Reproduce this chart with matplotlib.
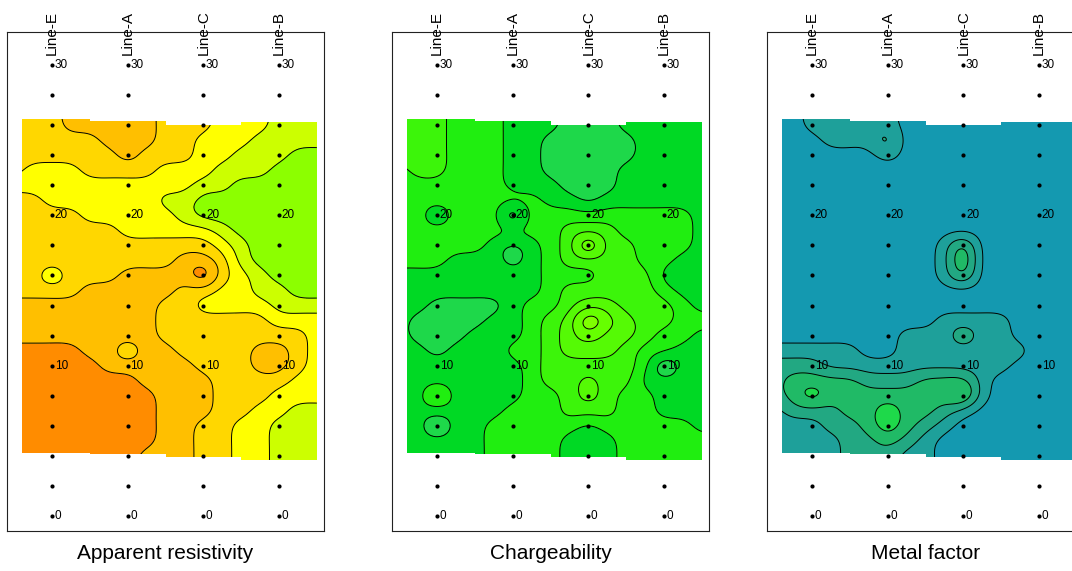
import numpy as np
import matplotlib
matplotlib.use('Agg')
import matplotlib.pyplot as plt
from matplotlib.patches import Polygon

# survey layout
lines = ['Line-E', 'Line-A', 'Line-C', 'Line-B']
stations = np.arange(0, 31, 2)
station_labels = [0, 10, 20, 30]
top_station = [26.4, 26.3, 26.0, 26.2]
bottom_station = [4.2, 4.1, 3.9, 3.75]
titles = ['Apparent resistivity', 'Chargeability', 'Metal factor']

# gridded class values: x = -0.5..3.5 step 0.25, y = 26..4 step 1
# digit d -> value d + 0.5 (band d), fixes give exact values at single nodes
grid_x = np.arange(-0.5, 3.51, 0.25)
grid_y = np.arange(26, 3, -1)

resistivity_map = [
    "22211111222333444",
    "22222111223334444",
    "22222212223344455",
    "23332222333444555",
    "33333333334455555",
    "22333333445555555",
    "22223333345555555",
    "22222233333455555",
    "22222222222345555",
    "22222222211245555",
    "22322211110234555",
    "22221111122334455",
    "11111111223333444",
    "11111111222222333",
    "11111111222222223",
    "00001121122221123",
    "00000111112221123",
    "00000001111222233",
    "00000000111222333",
    "00000000111223344",
    "00000000112233444",
    "00000000112233444",
    "00000001112233444",
]
resistivity_fix = {(0, 16): 4.0, (2, 16): -0.2, (1, 11): 3.0}

chargeability_map = [
    "33322211100011111",
    "33322211000001111",
    "33322211000001111",
    "23322211000011111",
    "22222211100011111",
    "22222222110111111",
    "22122202222222221",
    "22222222233322221",
    "22222101235332221",
    "22211101233332211",
    "11111111222333111",
    "11111111233333211",
    "11000012234433321",
    "10000112346543322",
    "10001112345443221",
    "11011122344432211",
    "11111112333332111",
    "11111112334331111",
    "11211112234322111",
    "11111122233322111",
    "11011222221222221",
    "11111222211122222",
    "11111222211122222",
]
chargeability_fix = {(2, 13): 7.6, (3, 10): -0.5, (0, 8): 3.8, (0, 6): -0.5,
                     (0, 20): 0.8, (1, 20): -0.8, (2, 18): 7.0}

metal_map = [
    "00111110000000000",
    "00011110000000000",
    "00000010000000000",
    "00000000000000000",
    "00000000000000000",
    "00000000000000000",
    "00000000000000000",
    "00000000000000000",
    "00000000013000000",
    "00000000013000000",
    "00000000013000000",
    "00000000000000000",
    "00000000000000000",
    "00000000011110000",
    "00000001112110000",
    "11111001111111000",
    "22211111111110000",
    "23333222333100000",
    "23433333333100000",
    "12223343321000000",
    "11122343210000000",
    "11112232100000000",
    "11112221100000000",
]
metal_fix = {(1, 25): 2.8, (2, 18): 3.8, (2, 17): 4.3, (2, 16): 3.6, (0, 8): 4.9,
             (2, 8): 4.7, (2, 12): 3.0, (1, 7): 4.8, (1, 6): 4.8}

resistivity_colors = ['#FF8C00', '#FFBF00', '#FFD700', '#FFFF00', '#CCFF00', '#8CFF00']
chargeability_colors = ['#1ED84A', '#00D924', '#20EE10', '#3CF50A', '#55FA05', '#66FF00', '#7FFF00']
metal_colors = ['#1499B0', '#1EA09A', '#22A882', '#20BA66', '#1ED94A']


def to_grid(rows, fix):
    g = np.array([[int(c) + 0.5 for c in r] for r in rows])
    for (x, y), v in fix.items():
        g[int(round(26 - y)), int(round((x + 0.5) / 0.25))] = v
    return g


def cr_matrix(coords, fine):
    # Catmull-Rom weights, flat outside the data range
    n = len(coords)
    u = (fine - coords[0]) / (coords[1] - coords[0])
    i = np.clip(np.floor(u).astype(int), 0, n - 2)
    t = np.clip(u - i, 0, 1)
    w = [(-t**3 + 2*t**2 - t) / 2, (3*t**3 - 5*t**2 + 2) / 2,
         (-3*t**3 + 4*t**2 + t) / 2, (t**3 - t**2) / 2]
    idx = [np.clip(i - 1, 0, n - 1), i, i + 1, np.clip(i + 2, 0, n - 1)]
    m = np.zeros((len(fine), n))
    rows = np.arange(len(fine))
    for k in range(4):
        np.add.at(m, (rows, idx[k]), w[k])
    return m


def blur(z, sx, sy):
    def kern(s):
        r = int(3 * s) + 1
        t = np.arange(-r, r + 1)
        g = np.exp(-0.5 * (t / s) ** 2)
        return g / g.sum(), r
    gx, rx = kern(sx)
    zp = np.pad(z, ((0, 0), (rx, rx)), mode='edge')
    z = np.apply_along_axis(lambda v: np.convolve(v, gx, mode='valid'), 1, zp)
    gy, ry = kern(sy)
    zp = np.pad(z, ((ry, ry), (0, 0)), mode='edge')
    return np.apply_along_axis(lambda v: np.convolve(v, gy, mode='valid'), 0, zp)


fx = np.linspace(-0.5, 3.5, 401)
fy = np.linspace(3.6, 26.6, 461)
MX = cr_matrix(grid_x, fx)
MY = cr_matrix(grid_y, fy)

fig = plt.figure(figsize=(10.72, 5.71), dpi=100)
plt.rcParams['font.family'] = ['Liberation Sans', 'DejaVu Sans']

panel_left = [7, 392, 767]
panels = [(resistivity_map, resistivity_fix, resistivity_colors),
          (chargeability_map, chargeability_fix, chargeability_colors),
          (metal_map, metal_fix, metal_colors)]

for k, (rows, fix, cols) in enumerate(panels):
    ax = fig.add_axes([panel_left[k] / 1072, 40 / 571, 317 / 1072, 499 / 571])
    ax.set_xlim(-0.595, 3.595)
    ax.set_ylim(-1.0, 32.2)
    ax.set_xticks([])
    ax.set_yticks([])
    for s in ax.spines.values():
        s.set_linewidth(0.8)
        s.set_color('#222222')

    z = blur(MY @ to_grid(rows, fix) @ MX.T, 11, 10)
    nb = len(cols)
    levels = [-10] + list(range(1, nb)) + [nb + 10]
    cf = ax.contourf(fx, fy, z, levels=levels, colors=cols)
    cl = ax.contour(fx, fy, z, levels=list(range(1, nb)), colors='black', linewidths=0.7)

    # stepped outline of the surveyed area
    verts = []
    for i in range(4):
        x0 = max(i - 0.5, -0.4)
        verts += [(x0, top_station[i]), (i + 0.5, top_station[i])]
    for i in range(3, -1, -1):
        x0 = max(i - 0.5, -0.4)
        verts += [(i + 0.5, bottom_station[i]), (x0, bottom_station[i])]
    clip = Polygon(verts, closed=True, transform=ax.transData)
    cf.set_clip_path(clip)
    cl.set_clip_path(clip)

    for i, name in enumerate(lines):
        ax.plot(np.full(len(stations), i), stations, 'o', color='black', ms=3, mew=0, zorder=4)
        for s in station_labels:
            ax.text(i + 0.035, s, str(s), fontsize=8.5, va='center', ha='left', zorder=5)
        ax.text(i, 30.67, name, rotation=90, ha='center', va='bottom', fontsize=11, clip_on=False)

    fig.text((panel_left[k] + 158.5) / 1072, 1 - 559 / 571, titles[k],
             ha='center', va='baseline', fontsize=15)

fig.savefig('out.png', dpi=100)
